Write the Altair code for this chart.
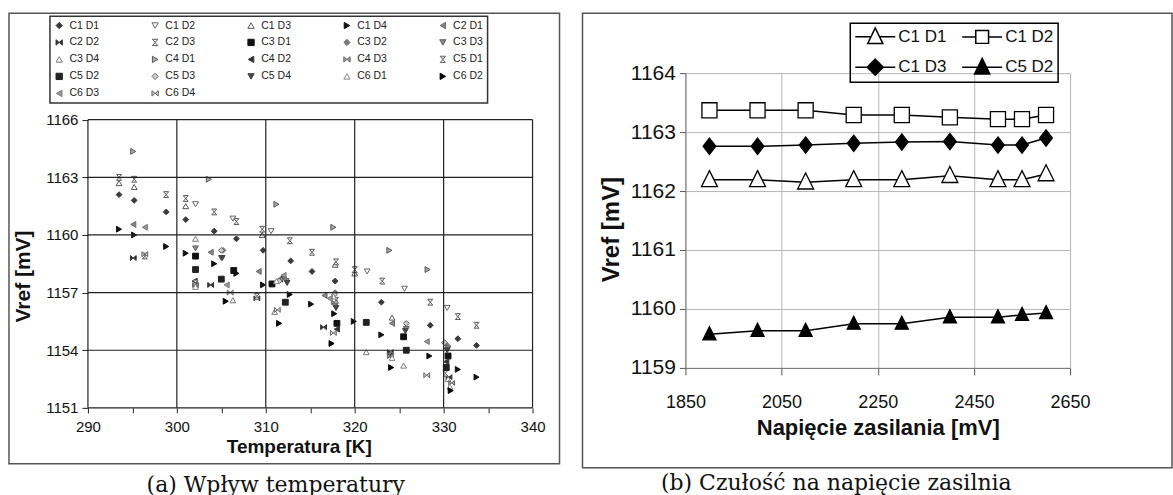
import altair as alt
import pandas as pd

# ---------------- Panel (a): Vref vs temperature ----------------
series_a = ["C1 D1", "C1 D2", "C1 D3", "C1 D4", "C2 D1", "C2 D2", "C2 D3", "C3 D1",
            "C3 D2", "C3 D3", "C3 D4", "C4 D1", "C4 D2", "C4 D3", "C5 D1", "C5 D2",
            "C5 D3", "C5 D4", "C6 D1", "C6 D2", "C6 D3", "C6 D4"]

temp_a = {
    "C1 D1": [293.5, 295.2, 298.8, 301.0, 304.2, 306.7, 309.7, 312.8, 315.2, 317.8, 323.0, 328.5, 331.6, 333.7],
    "C1 D2": [302.1, 306.3, 310.6, 321.4, 325.6, 330.4],
    "C1 D3": [293.5, 295.2, 301.0, 309.6, 317.8, 320.0, 324.2],
    "C1 D4": [293.5, 295.2, 298.8, 301.0, 304.2, 306.7, 309.7, 312.7, 315.1, 317.7, 319.9, 323.0, 328.4, 331.6, 333.7],
    "C2 D1": [295.1, 303.8, 309.2, 316.6, 324.2],
    "C2 D2": [295.1, 303.8, 309.0, 316.5, 324.0, 330.6],
    "C2 D3": [293.5, 295.2, 298.8, 301.0, 304.2, 306.7, 309.6, 312.7, 315.2, 317.9, 320.0, 323.1, 328.5, 331.6, 333.7],
    "C3 D1": [302.1, 306.4, 310.7, 318.0, 325.5, 330.5],
    "C3 D2": [305.2, 312.0, 317.8, 324.1, 330.3],
    "C3 D3": [302.1, 305.0, 312.3, 317.8, 325.8, 330.5],
    "C3 D4": [302.1, 306.3, 311.0, 321.3, 325.5, 330.5],
    "C4 D1": [295.1, 303.6, 311.2, 317.6, 323.9, 328.2],
    "C4 D2": [302.0, 311.6, 318.0, 324.0, 330.3],
    "C4 D3": [302.1, 312.0, 317.7, 324.0, 330.9],
    "C5 D1": [296.4, 302.1, 309.0, 317.9, 330.2],
    "C5 D2": [302.1, 305.0, 312.2, 321.3, 325.8, 330.3],
    "C5 D3": [305.0, 311.5, 317.7, 325.8, 330.1],
    "C5 D4": [305.1, 312.4, 317.9, 325.7, 330.4],
    "C6 D1": [302.1, 311.2, 317.6, 324.2, 330.7],
    "C6 D2": [305.5, 311.5, 317.4, 324.1, 330.8],
    "C6 D3": [296.4, 305.6, 312.0, 317.2, 328.1],
    "C6 D4": [296.4, 306.0, 311.3, 317.6, 328.1],
}
vref_a = {
    "C1 D1": [1162.1, 1161.8, 1161.2, 1160.8, 1160.2, 1159.8, 1159.2, 1158.65, 1158.1, 1157.6, 1156.5, 1155.3, 1154.6, 1154.25],
    "C1 D2": [1161.6, 1160.85, 1160.2, 1158.1, 1157.2, 1156.2],
    "C1 D3": [1162.7, 1162.5, 1161.5, 1160.0, 1158.45, 1158.0, 1155.7],
    "C1 D4": [1160.3, 1160.0, 1159.4, 1159.05, 1158.5, 1158.0, 1157.4, 1156.9, 1156.4, 1155.9, 1155.5, 1154.8, 1153.7, 1153.0, 1152.6],
    "C2 D1": [1160.55, 1159.1, 1158.1, 1156.85, 1155.4],
    "C2 D2": [1158.8, 1157.4, 1156.7, 1155.2, 1153.9, 1152.6],
    "C2 D3": [1163.0, 1162.9, 1162.1, 1161.9, 1161.2, 1160.7, 1160.3, 1159.7, 1159.1, 1158.6, 1158.2, 1157.6, 1156.5, 1155.75, 1155.3],
    "C3 D1": [1158.9, 1158.15, 1157.45, 1155.4, 1154.7, 1153.7],
    "C3 D2": [1159.2, 1157.8, 1157.0, 1153.8, 1154.3],
    "C3 D3": [1159.3, 1158.8, 1157.6, 1156.3, 1155.1, 1154.1],
    "C3 D4": [1159.8, 1156.6, 1156.0, 1153.9, 1153.2, 1152.5],
    "C4 D1": [1164.35, 1162.9, 1161.6, 1160.4, 1159.2, 1158.2],
    "C4 D2": [1157.6, 1157.7, 1155.1, 1153.7, 1153.4],
    "C4 D3": [1157.4, 1157.7, 1156.5, 1153.7, 1152.3],
    "C5 D1": [1158.9, 1157.5, 1156.8, 1156.6, 1152.8],
    "C5 D2": [1158.2, 1157.7, 1156.5, 1155.45, 1154.0, 1153.1],
    "C5 D3": [1159.2, 1157.6, 1156.9, 1155.4, 1154.4],
    "C5 D4": [1158.8, 1157.5, 1156.2, 1155.0, 1154.0],
    "C6 D1": [1157.3, 1157.6, 1156.8, 1153.6, 1152.1],
    "C6 D2": [1156.55, 1155.4, 1154.35, 1153.1, 1151.9],
    "C6 D3": [1160.4, 1157.4, 1157.9, 1156.7, 1154.45],
    "C6 D4": [1159.0, 1157.0, 1156.1, 1154.9, 1152.7],
}

BOWTIE = "M-1,-0.85L0,0L-1,0.85ZM1,-0.85L0,0L1,0.85Z"
HOURGLASS = "M-0.85,-1L0.85,-1L0,0ZM-0.85,1L0.85,1L0,0Z"
shapes_a = ["diamond", "triangle-down", "triangle-up", "triangle-right", "triangle-left", BOWTIE,
            HOURGLASS, "square", "diamond", "triangle-down", "triangle-up", "triangle-right",
            "triangle-left", BOWTIE, HOURGLASS, "square", "diamond", "triangle-down",
            "triangle-up", "triangle-right", "triangle-left", BOWTIE]
fills_a = ["#3a3a3a", "white", "white", "#111111", "#888888", "#333333", "white", "#111111",
           "#777777", "#888888", "white", "#aaaaaa", "#333333", "#999999", "#dddddd", "#222222",
           "#cccccc", "#444444", "white", "#000000", "#999999", "#cccccc"]
strokes_a = ["#3a3a3a", "#666666", "#555555", "#111111", "#666666", "#333333", "#555555", "#111111",
             "#777777", "#666666", "#777777", "#555555", "#333333", "#666666", "#666666", "#222222",
             "#666666", "#444444", "#888888", "#000000", "#777777", "#666666"]

xgrid_a = [290, 300, 310, 320, 330, 340]
ygrid_a = [1151, 1154, 1157, 1160, 1163, 1166]
xticks_a = [290, 295, 300, 305, 310, 315, 320, 325, 330, 335, 340]

rows = []
for s in series_a:
    for t, v in zip(temp_a[s], vref_a[s]):
        rows.append({"series": s, "T": t, "V": v})
df_a = pd.DataFrame(rows)

# ---------------- Panel (b): Vref vs supply voltage ----------------
series_b = ["C1 D1", "C1 D2", "C1 D3", "C5 D2"]
supply = [1900, 2000, 2100, 2200, 2300, 2400, 2500, 2550, 2600]
c1d1 = [1162.19, 1162.19, 1162.15, 1162.19, 1162.19, 1162.26, 1162.19, 1162.19, 1162.29]
c1d2 = [1163.37, 1163.37, 1163.37, 1163.29, 1163.29, 1163.25, 1163.22, 1163.22, 1163.29]
c1d3 = [1162.76, 1162.76, 1162.78, 1162.81, 1162.83, 1162.84, 1162.78, 1162.78, 1162.90]
c5d2 = [1159.57, 1159.63, 1159.63, 1159.75, 1159.75, 1159.86, 1159.86, 1159.90, 1159.93]

rows = []
for s, vals in zip(series_b, [c1d1, c1d2, c1d3, c5d2]):
    for u, v in zip(supply, vals):
        rows.append({"series": s, "leg": s, "U": u, "V": v})
df_b = pd.DataFrame(rows)

TRI = "M0,-1.15L1,0.85L-1,0.85Z"
DIA = "M0,-1.15L0.9,0L0,1.15L-0.9,0Z"
shapes_b = [TRI, "square", DIA, TRI]
fills_b = ["white", "white", "black", "black"]
strokes_b = ["black", "black", "black", "black"]
sizes_b = [256, 170, 256, 256]
legend_paths_b = [
    "M-1,0H0.96M2.04,0H4M1.5,-1.1L2.45,0.85L0.55,0.85Z",
    "M-1,0H0.7M2.3,0H4M0.7,-0.8H2.3V0.8H0.7Z",
    "M-1,0H4M1.5,-1L2.5,0L1.5,1L0.5,0Z",
    "M-1,0H4M1.5,-1.1L2.45,0.85L0.55,0.85Z",
]

SANS = "Liberation Sans"
SERIF = "DejaVu Serif"

# ---------------- Build panel (a) ----------------
W_A, H_A = 445, 335
PX_PER_MV_A = 288.4 / 15.0
x_a = alt.Scale(domain=[290, 340], nice=False, zero=False)
y_a = alt.Scale(domain=[1151, 1151 + H_A / PX_PER_MV_A], nice=False, zero=False)

leg_a = alt.Legend(title=None, orient="none", legendX=-38, legendY=-57, columns=5,
                   direction="horizontal", symbolSize=40, symbolStrokeWidth=1,
                   labelFontSize=10.5, labelFont=SANS, labelColor="#222", labelOffset=5,
                   rowPadding=6, columnPadding=50, gridAlign="all", padding=4,
                   strokeColor="#333")

ax_x_a = alt.Axis(values=xticks_a, labelExpr="datum.value % 10 === 0 ? datum.label : ''",
                  format="d", grid=False, domain=False, tickSize=5, tickColor="#222", tickWidth=1,
                  labelFont=SANS, labelFontSize=15, labelColor="#111", labelPadding=7,
                  labelFlush=False, labelOverlap=False,
                  title="Temperatura [K]", titleFont=SANS, titleFontSize=19,
                  titleFontWeight="bold", titleColor="#111", titleX=211, titleY=45,
                  titleAlign="center", titleBaseline="alphabetic")
ax_y_a = alt.Axis(values=ygrid_a, format="d", grid=False, domain=False, tickSize=6, tickColor="#222",
                  labelFont=SANS, labelFontSize=15, labelColor="#111", labelPadding=4,
                  labelFlush=False, labelOverlap=False,
                  title="Vref [mV]", titleFont=SANS, titleFontSize=21, titleFontWeight="bold",
                  titleColor="#111", titleAngle=-90, titleX=-64, titleY=203,
                  titleAlign="center", titleBaseline="middle")

one = pd.DataFrame({"k": [0]})
border_a = alt.Chart(one).mark_rect(fill="transparent", stroke="#555", strokeWidth=1.5).encode(
    x=alt.value(8 - 87), x2=alt.value(559 - 87), y=alt.value(12 - 72), y2=alt.value(463 - 72))

vgrid_a = alt.Chart(pd.DataFrame({"T": xgrid_a, "V": [1151] * 6, "V2": [1166] * 6})).mark_rule(
    color="#222", strokeWidth=1.2).encode(
    x=alt.X("T:Q", scale=x_a), y=alt.Y("V:Q", scale=y_a), y2="V2:Q")
hgrid_a = alt.Chart(pd.DataFrame({"V": ygrid_a, "T": [290] * 6, "T2": [340] * 6})).mark_rule(
    color="#222", strokeWidth=1.2).encode(
    y=alt.Y("V:Q", scale=y_a), x=alt.X("T:Q", scale=x_a), x2="T2:Q")

pts_a = alt.Chart(df_a).mark_point(filled=True, size=34, strokeWidth=1, opacity=1).encode(
    x=alt.X("T:Q", scale=x_a, axis=ax_x_a),
    y=alt.Y("V:Q", scale=y_a, axis=ax_y_a),
    shape=alt.Shape("series:N", scale=alt.Scale(domain=series_a, range=shapes_a), legend=leg_a),
    fill=alt.Fill("series:N", scale=alt.Scale(domain=series_a, range=fills_a), legend=leg_a),
    stroke=alt.Stroke("series:N", scale=alt.Scale(domain=series_a, range=strokes_a), legend=leg_a),
)

cap_a = alt.Chart(one).mark_text(font=SERIF, fontSize=22, color="#111", align="center",
                                 baseline="middle").encode(
    x=alt.value(275 - 87), y=alt.value(484 - 72), text=alt.value("(a) Wpływ temperatury"))

panel_a = alt.layer(border_a, pts_a, vgrid_a, hgrid_a, cap_a).properties(width=W_A, height=H_A)

# ---------------- Build panel (b) ----------------
W_B, H_B = 385, 295
x_b = alt.Scale(domain=[1850, 2650], nice=False, zero=False)
y_b = alt.Scale(domain=[1159, 1164], nice=False, zero=False)

ax_x_b = alt.Axis(values=[1850, 2050, 2250, 2450, 2650], format="d", grid=True, gridColor="#b5b5b5",
                  gridWidth=1, domainColor="#777", tickColor="#555", tickSize=7,
                  labelFont=SANS, labelFontSize=18, labelColor="#111", labelPadding=19,
                  labelFlush=False, labelOverlap=False,
                  title="Napięcie zasilania [mV]", titleFont=SANS, titleFontSize=22,
                  titleFontWeight="bold", titleColor="#111", titleY=67,
                  titleBaseline="alphabetic")
ax_y_b = alt.Axis(values=[1159, 1160, 1161, 1162, 1163, 1164], format="d", grid=True,
                  gridColor="#b5b5b5", gridWidth=1, domainColor="#777", tickColor="#555",
                  tickSize=6, labelFont=SANS, labelFontSize=21, labelColor="#111", labelPadding=4,
                  labelFlush=False, labelOverlap=False,
                  title="Vref [mV]", titleFont=SANS, titleFontSize=24, titleFontWeight="bold",
                  titleColor="#111", titleAngle=-90, titleX=-74, titleY=156,
                  titleAlign="center", titleBaseline="middle")

border_b = alt.Chart(one).mark_rect(fill="transparent", stroke="#555", strokeWidth=1.5).encode(
    x=alt.value(580 - 683), x2=alt.value(1170 - 683), y=alt.value(12 - 72), y2=alt.value(467 - 72))

lines_b = alt.Chart(df_b).mark_line(color="black", strokeWidth=1.5).encode(
    x=alt.X("U:Q", scale=x_b, axis=ax_x_b),
    y=alt.Y("V:Q", scale=y_b, axis=ax_y_b),
    detail="series:N")

pts_b = alt.Chart(df_b).mark_point(filled=True, stroke="black", strokeWidth=1.3, opacity=1).encode(
    x=alt.X("U:Q", scale=x_b),
    y=alt.Y("V:Q", scale=y_b),
    shape=alt.Shape("series:N", scale=alt.Scale(domain=series_b, range=shapes_b), legend=None),
    fill=alt.Fill("series:N", scale=alt.Scale(domain=series_b, range=fills_b), legend=None),
    size=alt.Size("series:N", scale=alt.Scale(domain=series_b, range=sizes_b), legend=None),
)

leg_b = alt.Legend(title=None, orient="none", legendX=165, legendY=-50, columns=2,
                   direction="horizontal", symbolSize=256, symbolStrokeColor="black",
                   symbolStrokeWidth=1.5, labelFont=SANS, labelFontSize=17,
                   labelColor="#111", labelOffset=26, rowPadding=8, columnPadding=12,
                   gridAlign="all", padding=4, strokeColor="black")
legend_b = alt.Chart(df_b).transform_filter("false").mark_point(
    filled=True, strokeWidth=1.5, size=256, opacity=1).encode(
    x=alt.X("U:Q", scale=x_b),
    y=alt.Y("V:Q", scale=y_b),
    shape=alt.Shape("leg:N", scale=alt.Scale(domain=series_b, range=legend_paths_b), legend=leg_b),
    fill=alt.Fill("leg:N", scale=alt.Scale(domain=series_b, range=fills_b), legend=leg_b),
    stroke=alt.Stroke("leg:N", scale=alt.Scale(domain=series_b, range=strokes_b), legend=leg_b),
)

cap_b = alt.Chart(one).mark_text(font=SERIF, fontSize=22, color="#111", align="center",
                                 baseline="middle").encode(
    x=alt.value(834 - 683), y=alt.value(482 - 72), text=alt.value("(b) Czułość na napięcie zasilnia"))

panel_b = alt.layer(border_b, lines_b, pts_b, legend_b, cap_b).resolve_scale(
    shape="independent", fill="independent", stroke="independent").properties(width=W_B, height=H_B)

chart = alt.hconcat(panel_a, panel_b, spacing=21).properties(
    padding={"left": 8, "top": 12, "right": 0, "bottom": 0}
).configure_view(stroke=None).configure_legend(strokeWidth=1.5)

chart.save("out.html", embed_options={"renderer": "svg", "actions": False})
